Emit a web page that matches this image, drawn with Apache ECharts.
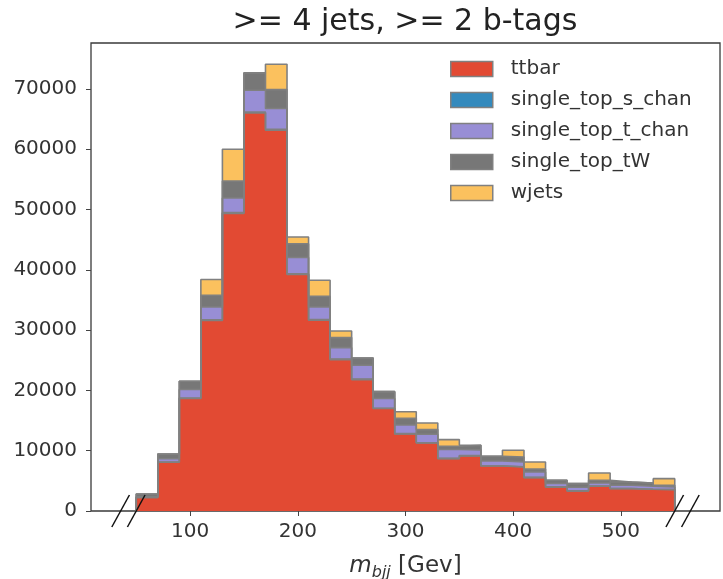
<!DOCTYPE html>
<html>
<head>
<meta charset="utf-8">
<script src="https://cdn.jsdelivr.net/npm/echarts@6/dist/echarts.min.js"></script>
<style>html,body{margin:0;padding:0;background:#fff;}#c{width:723px;height:579px;}</style>
</head>
<body>
<div id="c"></div>
<script>
// ---- data ----
const titleText = '>= 4 jets, >= 2 b-tags';
const binEdges = [50,70,90,110,130,150,170,190,210,230,250,270,290,310,330,350,370,390,410,430,450,470,490,510,530,550];
const seriesNames = ['ttbar','single_top_s_chan','single_top_t_chan','single_top_tW','wjets'];
const ttbar = [2250,8080,18650,31600,49340,66030,63160,39220,31640,25110,21800,16990,12780,11280,8690,9150,7470,7300,5540,3980,3320,4100,3710,3600,3550];
const sChan = [10,40,80,100,150,150,150,120,100,80,80,60,50,40,40,40,30,30,30,20,20,20,20,20,20];
const tChan = [100,550,1420,2140,2440,3620,3450,2700,2100,1910,2290,1600,1440,1400,1460,950,800,800,900,550,600,530,530,480,410];
const tW = [470,770,1380,1950,2820,2870,3140,2300,1780,1660,1200,1150,1110,780,540,760,775,830,500,540,600,440,550,550,280];
const wjets = [0,0,0,2600,5250,0,4200,1110,2650,1100,0,0,1090,1100,1110,0,0,1110,1160,0,0,1210,0,0,1110];
const xTicks = [100,200,300,400,500];
const yTicks = [0,10000,20000,30000,40000,50000,60000,70000];
const breakMarks = [35.5,50,550,564.5];

// ---- styles ----
const colors = ['#E24A33','#348ABD','#988ED5','#777777','#FBC15E'];
const edge = '#808080';

const layers = [ttbar,sChan,tChan,tW,wjets];
const cums = [];
let run = ttbar.map(() => 0);
layers.forEach(arr => { run = run.map((v,i) => v + arr[i]); cums.push(run.slice()); });

function stepData(cum){
  const n = cum.length;
  const d = [[binEdges[0],0]];
  cum.forEach((v,i) => d.push([binEdges[i], v]));
  d.push([binEdges[n], cum[n-1]]);
  d.push([binEdges[n], 0]);
  return d;
}

const series = [];
for (let k = layers.length - 1; k >= 0; k--) {
  series.push({
    name: seriesNames[k],
    type: 'line',
    step: 'end',
    data: stepData(cums[k]),
    showSymbol: false,
    symbol: 'none',
    color: colors[k],
    lineStyle: {color: edge, width: 1.6},
    areaStyle: {color: colors[k], opacity: 1},
    emphasis: {disabled: true},
    silent: true
  });
}
series.push({
  type: 'custom',
  clip: false,
  silent: true,
  z: 10,
  data: breakMarks.map(x => [x, 0]),
  encode: {x: 0, y: 1},
  renderItem: function(params, api){
    const p = api.coord([api.value(0), 0]);
    return {type:'line', shape:{x1:p[0]-8.8, y1:p[1]+16, x2:p[0]+8.8, y2:p[1]-16},
            style:{stroke:'#111', lineWidth:1.5}};
  }
});

const chart = echarts.init(document.getElementById('c'), null, {renderer:'canvas'});
chart.setOption({
  animation: false,
  backgroundColor: '#fff',
  textStyle: {fontFamily: 'DejaVu Sans'},
  graphic: [{
    type: 'text', x: 405, y: 22,
    style: {text: titleText, fontSize: 30, fontFamily: 'DejaVu Sans', fill: '#222', align: 'center', verticalAlign: 'middle'}
  }],
  grid: {left: 91, right: 3, top: 43, bottom: 68, show: true, borderColor: '#3a3a3a', borderWidth: 1.3,
         backgroundColor: 'transparent', containLabel: false, outerBoundsMode: 'none'},
  legend: {
    left: 450, top: 59, orient: 'vertical', padding: 0,
    itemWidth: 42, itemHeight: 15, itemGap: 11,
    icon: 'rect', selectedMode: false,
    data: [0,1,2,3,4].map(k => ({name: seriesNames[k], itemStyle: {color: colors[k], borderColor: edge, borderWidth: 1.5}})),
    formatter: '{a|{name}}',
    textStyle: {rich: {a: {fontSize: 20, lineHeight: 20, color: '#333', fontFamily: 'DejaVu Sans', padding: [0,0,0,13]}}}
  },
  xAxis: {
    type: 'value', min: 8, max: 592,
    axisLine: {show: false},
    splitLine: {show: false},
    axisTick: {show: true, length: 5, lineStyle: {color: '#444'}, customValues: xTicks},
    axisLabel: {fontSize: 20, color: '#333', margin: 11, customValues: xTicks, formatter: v => String(v)},
    name: '{m|m}{s|bjj}{n| [Gev]}',
    nameLocation: 'middle', nameGap: 42,
    nameTextStyle: {rich: {
      m: {fontSize: 23, fontStyle: 'italic', lineHeight: 28, verticalAlign: 'bottom', padding: [0,0,3,0], color: '#333', fontFamily: 'DejaVu Sans'},
      s: {fontSize: 16, fontStyle: 'italic', lineHeight: 20, verticalAlign: 'bottom', color: '#333', fontFamily: 'DejaVu Sans'},
      n: {fontSize: 23, lineHeight: 28, verticalAlign: 'bottom', padding: [0,0,3,0], color: '#333', fontFamily: 'DejaVu Sans'}
    }}
  },
  yAxis: {
    type: 'value', min: 0, max: 77630,
    axisLine: {show: false},
    splitLine: {show: false},
    axisTick: {show: true, length: 5, lineStyle: {color: '#444'}, customValues: yTicks},
    axisLabel: {fontSize: 20, color: '#333', margin: 14, customValues: yTicks, formatter: v => String(v)}
  },
  series: series
});
</script>
</body>
</html>
